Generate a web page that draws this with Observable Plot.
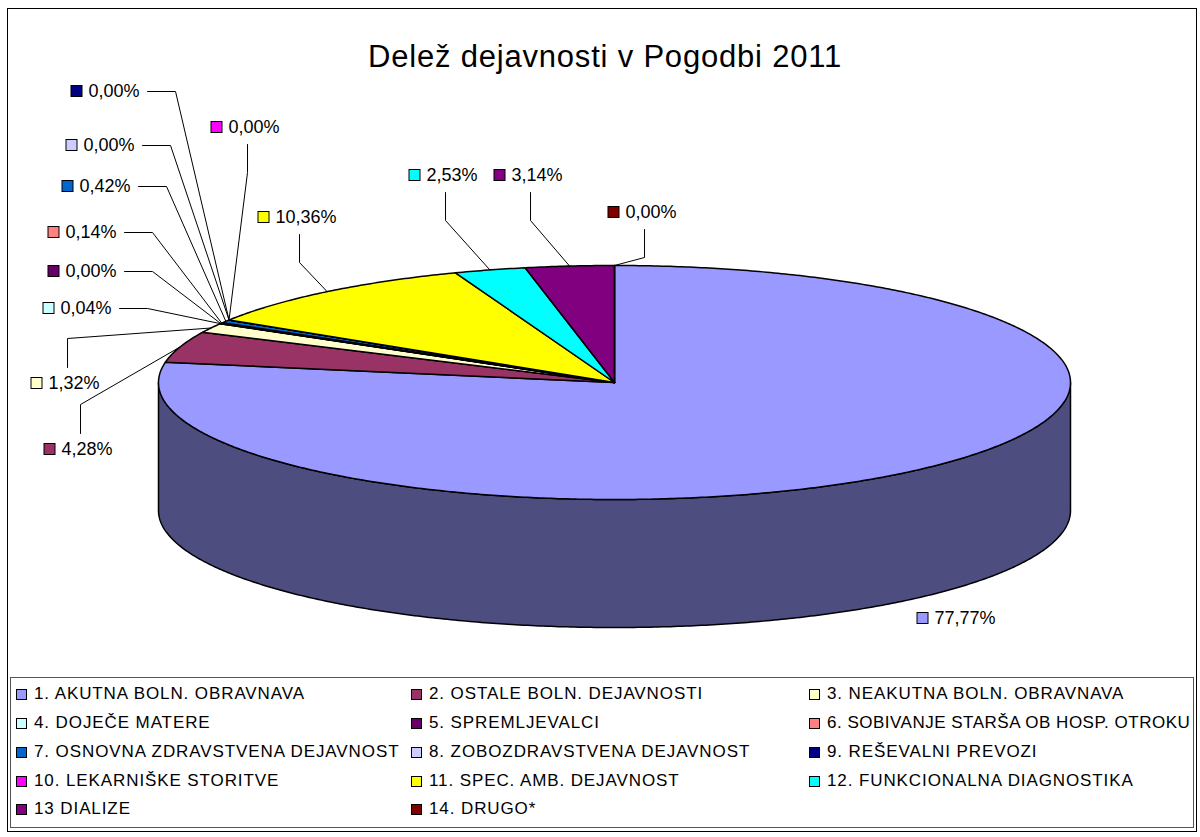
<!DOCTYPE html>
<html>
<head>
<meta charset="utf-8">
<script src="https://cdn.jsdelivr.net/npm/d3@7"></script>
<script src="https://cdn.jsdelivr.net/npm/@observablehq/plot@0.6"></script>
<style>
  body { margin: 0; background: #fff; font-family: "Liberation Sans", Arial, sans-serif; }
  #page { position: relative; width: 1200px; height: 837px; overflow: hidden; background: #fff; }
  #chart { position: absolute; left: 0; top: 0; width: 1200px; }
  #title { position: absolute; left: 368px; top: 41px; font-size: 31px; line-height: 31px;
           letter-spacing: 0.8px; white-space: nowrap; color: #000; }
  #legend { position: absolute; left: 10px; top: 677px; width: 1184px; height: 151px;
            box-sizing: border-box; border: 1px solid #555; overflow: hidden; background: #fff; }
  .item { position: absolute; height: 20px; display: flex; align-items: center; white-space: nowrap;
          font-size: 17px; letter-spacing: 0.9px; color: #000; }
  .sw { width: 11px; height: 11px; box-sizing: border-box; border: 1px solid #000; margin-right: 7px; flex: none; }
  #frame { position: absolute; left: 7px; top: 8px; width: 1190px; height: 824px; box-sizing: border-box;
           border: 1px solid #000; pointer-events: none; }
</style>
</head>
<body>
<div id="page">
  <div id="chart"></div>
  <div id="title">Delež dejavnosti v Pogodbi 2011</div>
  <div id="legend"></div>
  <div id="frame"></div>
</div>
<script>
// ---- data ----
const categories = [
  "1. AKUTNA BOLN. OBRAVNAVA",
  "2. OSTALE BOLN. DEJAVNOSTI",
  "3. NEAKUTNA BOLN. OBRAVNAVA",
  "4. DOJEČE MATERE",
  "5. SPREMLJEVALCI",
  "6. SOBIVANJE STARŠA OB HOSP. OTROKU",
  "7. OSNOVNA ZDRAVSTVENA DEJAVNOST",
  "8. ZOBOZDRAVSTVENA DEJAVNOST",
  "9. REŠEVALNI PREVOZI",
  "10. LEKARNIŠKE STORITVE",
  "11. SPEC. AMB. DEJAVNOST",
  "12. FUNKCIONALNA DIAGNOSTIKA",
  "13 DIALIZE",
  "14. DRUGO*"
];
const shares = [77.77, 4.28, 1.32, 0.04, 0.00, 0.14, 0.42, 0.00, 0.00, 0.00, 10.36, 2.53, 3.14, 0.00];
const colors = ["#9999FF", "#993366", "#FFFFCC", "#CCFFFF", "#660066", "#FF8080", "#0066CC",
                "#CCCCFF", "#000080", "#FF00FF", "#FFFF00", "#00FFFF", "#800080", "#800000"];
const sideColor = "#4D4D80";

// ---- layout (not data) ----
const pie = {cx: 614, cy: 382, rx: 456, ry: 117, depth: 128};
// label box position (left edge of key square, vertical centre) and leader style
const labelLayout = [
  {x: 917, y: 618, leader: "none"},
  {x: 44,  y: 449, leader: "above"},
  {x: 31,  y: 383, leader: "above"},
  {x: 43,  y: 308, leader: "right"},
  {x: 48,  y: 271, leader: "right"},
  {x: 48,  y: 232, leader: "right"},
  {x: 62,  y: 186, leader: "right"},
  {x: 66,  y: 145, leader: "right"},
  {x: 71,  y: 91,  leader: "right"},
  {x: 211, y: 127, leader: "below"},
  {x: 258, y: 217, leader: "below"},
  {x: 409, y: 175, leader: "below"},
  {x: 494, y: 175, leader: "below"},
  {x: 608, y: 212, leader: "below"}
];
const legendColX = [5, 400, 798];
const legendRowY = [16, 45, 74, 103, 131];

// ---- geometry from values ----
const total = d3.sum(shares);
const rad = Math.PI / 180;
const rim = (deg, dy = 0) => ({x: pie.cx + pie.rx * Math.sin(deg * rad), y: pie.cy - pie.ry * Math.cos(deg * rad) + dy});
const cum = d3.cumsum(shares);
const slices = shares.map((v, i) => {
  const a1 = cum[i] / total * 360;
  const a0 = (cum[i] - v) / total * 360;
  return {i, v, a0, a1, mid: (a0 + a1) / 2, fill: colors[i]};
});

const topPts = [];
for (const s of slices) {
  topPts.push({id: s.i, fill: s.fill, x: pie.cx, y: pie.cy});
  const n = Math.max(1, Math.ceil((s.a1 - s.a0) / 0.5));
  for (let k = 0; k <= n; k++) {
    const p = rim(s.a0 + (s.a1 - s.a0) * k / n);
    topPts.push({id: s.i, fill: s.fill, x: p.x, y: p.y});
  }
}
// visible front wall (belongs to slice 1, spans 90°..270°)
const sidePts = [];
for (let a = 90; a <= 270; a += 0.5) { const p = rim(a); sidePts.push({id: "side", fill: sideColor, x: p.x, y: p.y}); }
for (let a = 270; a >= 90; a -= 0.5) { const p = rim(a, pie.depth); sidePts.push({id: "side", fill: sideColor, x: p.x, y: p.y}); }

// labels
const fmt = v => d3.format(".2f")(v).replace(".", ",") + "%";
const ctx = document.createElement("canvas").getContext("2d");
ctx.font = '18px "Liberation Sans"';
const labels = slices.map(s => {
  const L = labelLayout[s.i];
  const text = fmt(s.v);
  const tx = L.x + 17;
  const tEnd = tx + ctx.measureText(text).width;
  return {...L, text, tx, tEnd, fill: s.fill, mid: s.mid, i: s.i};
});
const leaderPts = [];
for (const l of labels) {
  if (l.leader === "none") continue;
  const end = rim(l.mid);
  const mx = (l.x + l.tEnd) / 2 + 2;
  let pts;
  if (l.leader === "right") pts = [[l.tEnd + 8, l.y], [l.tEnd + 36, l.y]];
  else if (l.leader === "below") pts = [[mx, l.y + 17], [mx, l.y + 45]];
  else pts = [[mx, l.y - 16], [mx, l.y - 45]];
  pts.push([end.x, end.y]);
  pts.forEach(([x, y]) => leaderPts.push({id: l.i, x, y}));
}

const font = "Liberation Sans, Arial, sans-serif";
const chart = Plot.plot({
  width: 1200,
  height: 670,
  margin: 0,
  x: {domain: [0, 1200], range: [0, 1200], axis: null},
  y: {domain: [0, 670], range: [0, 670], axis: null},
  color: {type: "identity"},
  style: {fontFamily: font, background: "transparent"},
  marks: [
    Plot.line(sidePts, {x: "x", y: "y", z: "id", fill: d => d.fill, stroke: "#000", strokeWidth: 1.5, curve: "linear-closed"}),
    Plot.line(topPts, {x: "x", y: "y", z: "id", fill: d => d.fill, stroke: "#000", strokeWidth: 1.5, strokeLinejoin: "round", curve: "linear-closed"}),
    Plot.line(leaderPts, {x: "x", y: "y", z: "id", stroke: "#000", strokeWidth: 1}),
    Plot.rect(labels, {x1: d => d.x, x2: d => d.x + 11, y1: d => d.y - 5.5, y2: d => d.y + 5.5, fill: d => d.fill, stroke: "#000", strokeWidth: 1}),
    Plot.text(labels, {x: "tx", y: "y", text: "text", textAnchor: "start", fontSize: 18, fill: "#000"})
  ]
});
document.getElementById("chart").appendChild(chart);

// legend
const legend = document.getElementById("legend");
const innerW = legend.clientWidth;
categories.forEach((name, i) => {
  const item = document.createElement("div");
  item.className = "item";
  const left = legendColX[i % 3];
  item.style.left = left + "px";
  item.style.top = (legendRowY[Math.floor(i / 3)] - 10) + "px";
  const sw = document.createElement("span");
  sw.className = "sw";
  sw.style.background = colors[i];
  const t = document.createElement("span");
  t.textContent = name;
  item.appendChild(sw);
  item.appendChild(t);
  legend.appendChild(item);
  // keep the text inside the legend box
  const avail = innerW - left - 3;
  if (item.scrollWidth > avail) {
    const chars = name.length;
    const ls = Math.max(0, 0.9 - (item.scrollWidth - avail) / chars);
    item.style.letterSpacing = ls + "px";
    if (item.scrollWidth > avail) item.style.fontSize = (17 * avail / item.scrollWidth) + "px";
  }
});
</script>
</body>
</html>
